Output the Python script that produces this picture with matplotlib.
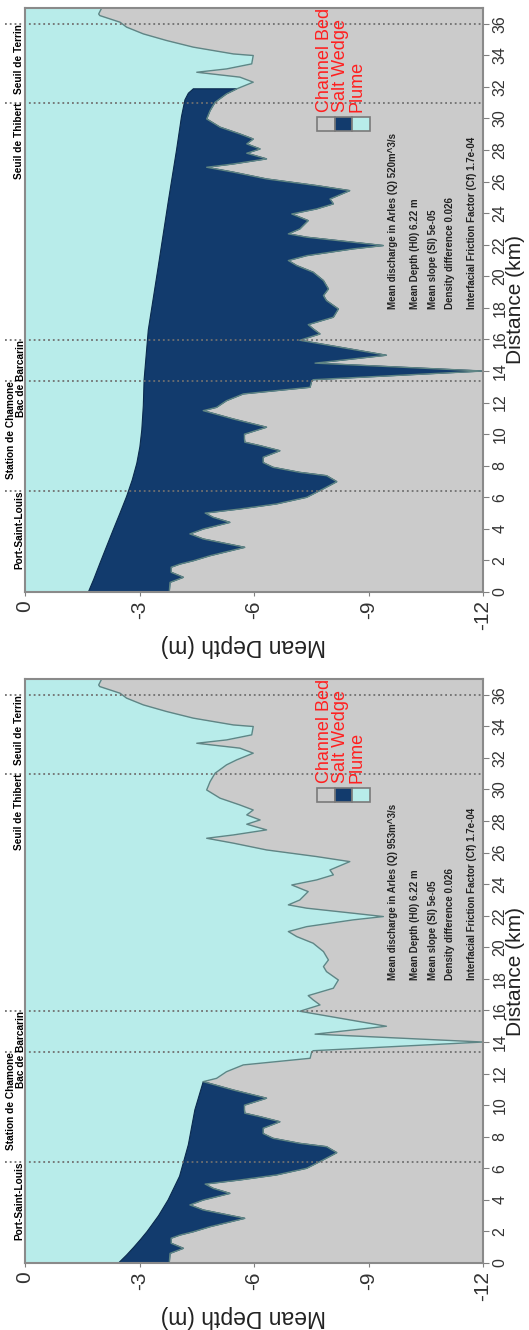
import numpy as np
import matplotlib.pyplot as plt
from matplotlib.patches import Rectangle

plt.rcParams['font.family'] = ['Liberation Sans', 'DejaVu Sans']

# channel bed profile (distance km, depth m), same for both runs
bed_km = [0.0, 0.61, 0.93, 1.25, 1.57, 1.77, 1.98, 2.30, 2.83, 3.36, 3.68, 3.99,
          4.41, 4.73, 5.0, 5.26, 5.58, 6.0, 6.53, 6.99, 7.37, 7.58, 7.90, 8.20,
          8.54, 8.95, 9.27, 9.49, 9.70, 10.0, 10.44, 10.96, 11.49, 11.70, 12.12,
          12.55, 12.97, 13.35, 13.45, 14.0, 14.5, 15.0, 15.95, 16.35, 16.67,
          16.94, 17.41, 17.93, 18.46, 18.78, 19.2, 19.73, 20.26, 20.68, 21.0,
          21.31, 21.74, 21.95, 22.16, 22.48, 22.69, 23.0, 23.53, 23.95, 24.27,
          24.59, 24.9, 25.43, 25.75, 26.17, 26.6, 26.91, 27.12, 27.44, 27.8,
          28.07, 28.39, 28.7, 29.02, 29.45, 29.97, 30.5, 31.03, 31.56, 31.88,
          32.3, 32.62, 32.93, 33.14, 33.46, 33.99, 34.09, 34.52, 34.94, 35.36,
          35.79, 36.1, 36.52, 36.62, 37.0]
bed_m = [-3.78, -3.80, -4.15, -3.83, -3.83, -4.06, -4.41, -4.85, -5.76, -4.67,
         -4.32, -4.67, -5.37, -4.93, -4.72, -5.63, -6.59, -7.38, -7.81, -8.17,
         -7.90, -7.20, -6.50, -6.24, -6.24, -6.68, -6.16, -5.76, -5.75, -5.75,
         -6.33, -5.46, -4.67, -5.02, -5.28, -5.72, -7.47, -7.51, -7.55, -12.0,
         -7.60, -9.47, -7.20, -7.73, -7.55, -7.42, -8.08, -8.21, -7.90, -7.82,
         -7.95, -7.82, -7.55, -7.12, -6.90, -7.38, -8.60, -9.39, -8.60, -7.38,
         -6.90, -7.20, -7.42, -6.99, -7.64, -8.08, -7.99, -8.51, -7.64, -6.33,
         -5.46, -4.76, -5.46, -6.33, -5.81, -6.16, -5.81, -5.98, -5.63, -5.11,
         -4.76, -4.85, -4.98, -5.28, -5.55, -5.98, -5.63, -4.50, -5.28, -5.94,
         -5.98, -5.46, -4.41, -3.71, -3.10, -2.66, -2.49, -1.96, -1.93, -2.01]

# top of the salt wedge for each run
iface_520_km = [0.0, 0.8, 1.8, 2.9, 3.93, 5.0, 6.04, 7.1, 8.16, 9.2, 10.27,
                11.8, 13.43, 16.6, 20.6, 24.84, 28.0, 30.12, 31.18, 31.6, 31.88]
iface_520_m = [-1.66, -1.80, -1.96, -2.14, -2.31, -2.49, -2.66, -2.81, -2.93,
               -3.01, -3.06, -3.10, -3.12, -3.23, -3.49, -3.76, -3.97, -4.10,
               -4.19, -4.28, -4.41]
iface_953_km = [0.0, 0.5, 1.0, 1.5, 2.0, 3.0, 4.0, 5.5, 7.5, 9.7, 11.49]
iface_953_m = [-2.45, -2.66, -2.85, -3.03, -3.20, -3.50, -3.75, -4.05, -4.28,
               -4.45, -4.67]

site_names = ['Port-Saint-Louis', 'Station de Chamone', 'Bac de Barcarin',
              'Seuil de Thibert', 'Seuil de Terrin']
site_km = [6.42, 13.37, 15.99, 31.0, 36.0]
site_xoff = [-0.013, -0.031, -0.009, -0.013, -0.013]

depth_ticks = [0, -3, -6, -9, -12]
depth_labels = ['0', '-3', '-6', '-9', '-12']
dist_ticks = list(range(0, 37, 2))

legend_names = ['Channel Bed', 'Salt Wedge', 'Plume']

col_bed = '#cbcbcb'
col_wedge = '#123b6d'
col_plume = '#b8ecea'


def draw_panel(ax, iface_km, iface_m, discharge):
    ax.set_facecolor(col_bed)
    ax.fill_betweenx(bed_km, 0, bed_m, color=col_plume, lw=0)
    ax.plot(bed_m, bed_km, color='#5f8585', lw=1)

    # salt wedge polygon: interface going up, bed coming back down
    tip = iface_km[-1]
    back_km = [k for k in bed_km if k <= tip + 1e-6][::-1]
    back_m = [m for k, m in zip(bed_km, bed_m) if k <= tip + 1e-6][::-1]
    ax.fill(list(iface_m) + back_m, list(iface_km) + back_km,
            facecolor=col_wedge, edgecolor='#0b2a4e', lw=0.8)

    ax.set_xlim(0, -12)
    ax.set_ylim(0, 37)

    ytr = ax.get_yaxis_transform()
    for name, km, xo in zip(site_names, site_km, site_xoff):
        ax.plot([-0.044, 1], [km, km], transform=ytr, clip_on=False,
                ls=':', color='#707070', lw=1.3)
        ax.text(xo, km, name, transform=ytr, rotation=90, ha='center',
                va='top', fontsize=7.3, fontweight='bold')

    stats = ['Mean discharge in Arles (Q) %dm^3/s' % discharge,
             'Mean Depth (H0) 6.22 m',
             'Mean slope (Sl) 5e-05',
             'Density difference 0.026',
             'Interfacial Friction Factor (Cf) 1.7e-04']
    for s, xd in zip(stats, [-9.64, -10.22, -10.69, -11.13, -11.71]):
        ax.text(xd, 17.9, s, rotation=90, ha='center', va='bottom',
                fontsize=7, fontweight='bold', color='#222222')

    # legend boxes and labels
    for i, c in enumerate([col_bed, col_wedge, col_plume]):
        x0 = -7.65 - 0.465 * i
        ax.add_patch(Rectangle((x0, 29.2), -0.465, 0.9, facecolor=c,
                               edgecolor='#7a7a7a', lw=1.2, clip_on=False))
    ax.text(-7.62, 30.4, '\n'.join(legend_names), rotation=90, ha='left',
            va='bottom', fontsize=13, color='#ff2020', linespacing=0.95,
            clip_on=False)

    ax.set_xticks(depth_ticks)
    ax.set_xticklabels(depth_labels, rotation=90, fontsize=15, color='#333333')
    ax.yaxis.tick_right()
    ax.set_yticks(dist_ticks)
    ax.set_yticklabels([str(t) for t in dist_ticks], rotation=90, fontsize=11.5,
                       color='#333333', va='center')
    ax.tick_params(axis='x', length=3, pad=3, color='#808080')
    ax.tick_params(axis='y', length=4, pad=3, color='#808080')
    for sp in ax.spines.values():
        sp.set_color('#8a8a8a')
        sp.set_linewidth(1.5)

    ax.text(0.476, -0.091, 'Mean Depth (m)', transform=ax.transAxes,
            rotation=180, ha='center', va='center', fontsize=16.5,
            color='#222222')
    ax.text(1.072, 0.5, 'Distance (km)', transform=ax.transAxes,
            rotation=90, ha='center', va='center', fontsize=15,
            color='#222222')


fig = plt.figure(figsize=(5.29, 13.3), dpi=100)
ax1 = fig.add_axes([25 / 529, 1 - 592 / 1330, 458 / 529, 584 / 1330])
ax2 = fig.add_axes([25 / 529, 1 - 1263 / 1330, 458 / 529, 584 / 1330])

draw_panel(ax1, iface_520_km, iface_520_m, 520)
draw_panel(ax2, iface_953_km, iface_953_m, 953)

plt.savefig('out.png', dpi=100)
